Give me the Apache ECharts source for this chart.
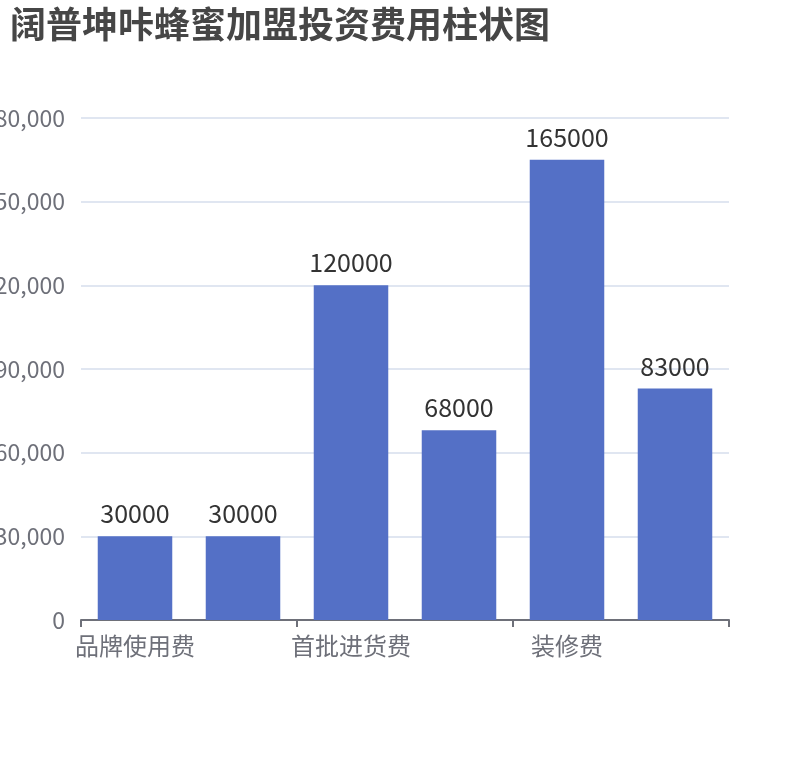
<!DOCTYPE html>
<html><head><meta charset="utf-8">
<script src="https://cdn.jsdelivr.net/npm/echarts@6/dist/echarts.min.js"></script>
<style>html,body{margin:0;padding:0;background:#fff}#c{width:810px;height:760px}</style>
</head><body><div id="c"></div>
<script>
const titleText = '阔普坤咔蜂蜜加盟投资费用柱状图';
const categories = ['品牌使用费', '加盟保证金', '首批进货费', '设备购置费', '装修费', '流动资金'];
const values = [30000, 30000, 120000, 68000, 165000, 83000];
const yTicks = { min: 0, max: 180000, interval: 30000 };

const FONT = '"Noto Sans CJK SC", "Noto Sans", sans-serif';
const chart = echarts.init(document.getElementById('c'));
chart.setOption({
  animation: false,
  textStyle: { fontFamily: FONT },
  title: { text: titleText, left: 5, top: 1, textStyle: { fontFamily: FONT, fontSize: 36, fontWeight: 'bold', color: '#464646' } },
  grid: { left: 81, right: 81, top: 118, bottom: 140, containLabel: false, outerBoundsMode: 'none' },
  xAxis: {
    type: 'category', data: categories,
    axisLine: { show: true, lineStyle: { color: '#6E7079', width: 2 } },
    axisLabel: { interval: 1, fontSize: 24, color: '#6E7079', margin: 14, fontFamily: FONT },
    axisTick: { show: true, interval: 1, length: 7, lineStyle: { color: '#6E7079', width: 2 } }
  },
  yAxis: {
    type: 'value', min: yTicks.min, max: yTicks.max, interval: yTicks.interval,
    axisLabel: { fontSize: 23, color: '#6E7079', margin: 16, fontFamily: FONT },
    splitLine: { lineStyle: { color: '#E0E6F1', width: 2 } }
  },
  series: [{
    type: 'bar', data: values, barWidth: '69%',
    itemStyle: { color: '#5470c6' },
    label: { show: true, position: 'top', distance: 10, fontSize: 25, color: '#333', fontFamily: FONT }
  }]
});
</script></body></html>
